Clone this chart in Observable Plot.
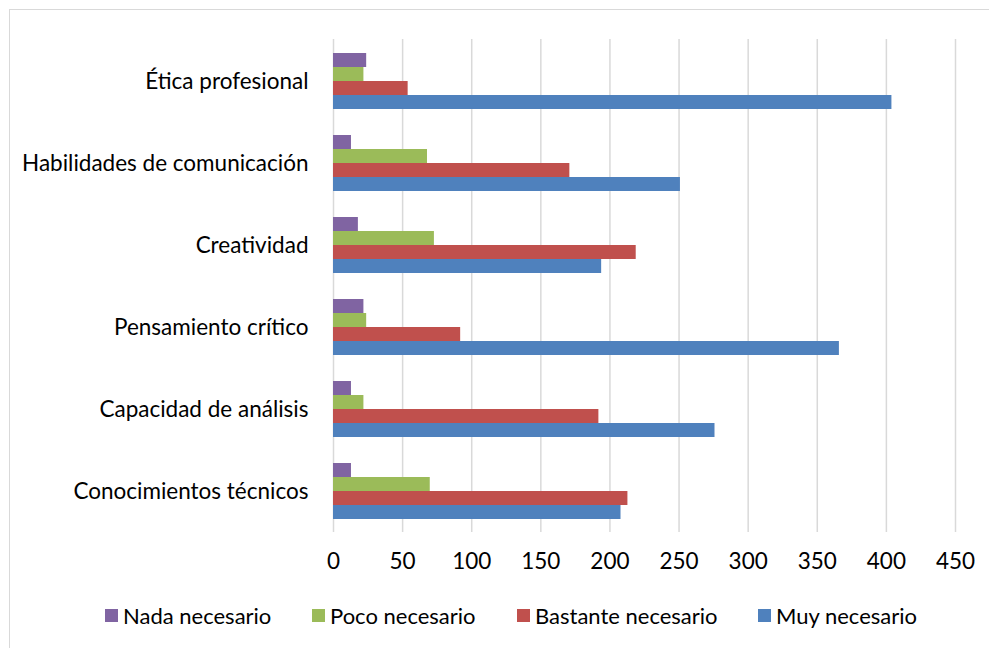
<!DOCTYPE html>
<html>
<head>
<meta charset="utf-8">
<script src="https://cdn.jsdelivr.net/npm/d3@7"></script>
<script src="https://cdn.jsdelivr.net/npm/@observablehq/plot@0.6"></script>
<style>
  html, body { margin: 0; padding: 0; background: #fff; }
  #wrap { position: relative; width: 989px; height: 648px; overflow: hidden; font-family: Lato, "Open Sans", sans-serif; }
  #frame { position: absolute; left: 9px; top: 9px; width: 1100px; height: 800px; border: 1px solid #d9d9d9; }
  #chart { position: absolute; left: 0; top: 0; }
  #legend { position: absolute; left: 0; top: 602px; width: 989px; height: 26px; }
  .item { position: absolute; top: 0; display: flex; align-items: center; font-size: 22px; color: #000; white-space: nowrap; }
  .sw { width: 13px; height: 13px; margin-right: 5px; }
</style>
</head>
<body>
<div id="wrap">
  <div id="frame"></div>
  <div id="chart"></div>
  <div id="legend"></div>
</div>
<script>
const categories = ["Ética profesional", "Habilidades de comunicación", "Creatividad", "Pensamiento crítico", "Capacidad de análisis", "Conocimientos técnicos"];
const seriesNames = ["Nada necesario", "Poco necesario", "Bastante necesario", "Muy necesario"];
const seriesColors = ["#8064A2", "#9BBB59", "#C0504D", "#4F81BD"];
const nada = [24, 13, 18, 22, 13, 13];
const poco = [22, 68, 73, 24, 22, 70];
const bastante = [54, 171, 219, 92, 192, 213];
const muy = [404, 251, 194, 366, 276, 208];
const xTicks = [0, 50, 100, 150, 200, 250, 300, 350, 400, 450];

const seriesValues = [nada, poco, bastante, muy];
const rows = seriesValues.map((vals, i) =>
  categories.map((c, j) => ({category: c, series: seriesNames[i], value: vals[j]}))
);

const barH = 14;
const marks = [
  Plot.ruleX(xTicks, {stroke: "#d9d9d9", strokeWidth: 1.5}),
  ...rows.map((data, i) => Plot.barX(data, {
    y: "category", x: "value", fill: seriesColors[i],
    insetTop: barH * i, insetBottom: barH * (3 - i)
  })),
  Plot.axisX({ticks: xTicks, tickSize: 0, tickPadding: 21, fontSize: 22.5, tickFormat: d => String(d)}),
  Plot.axisY({tickSize: 0, tickPadding: 25, fontSize: 22.5, label: null})
];

const chart = Plot.plot({
  width: 989,
  height: 580,
  marginLeft: 333,
  marginRight: 34,
  marginTop: 39,
  marginBottom: 48,
  style: {fontFamily: "Lato, 'Open Sans', sans-serif", color: "#000", background: "transparent"},
  x: {domain: [0, 450], label: null},
  y: {domain: categories, paddingInner: 0.319, paddingOuter: 0.158, label: null},
  marks
});
document.getElementById("chart").appendChild(chart);

const legendX = [105, 312, 517, 758];
const legend = document.getElementById("legend");
seriesNames.forEach((name, i) => {
  const it = document.createElement("div");
  it.className = "item";
  it.style.left = legendX[i] + "px";
  const sw = document.createElement("div");
  sw.className = "sw";
  sw.style.background = seriesColors[i];
  it.appendChild(sw);
  const t = document.createElement("span");
  t.textContent = name;
  it.appendChild(t);
  legend.appendChild(it);
});
</script>
</body>
</html>
